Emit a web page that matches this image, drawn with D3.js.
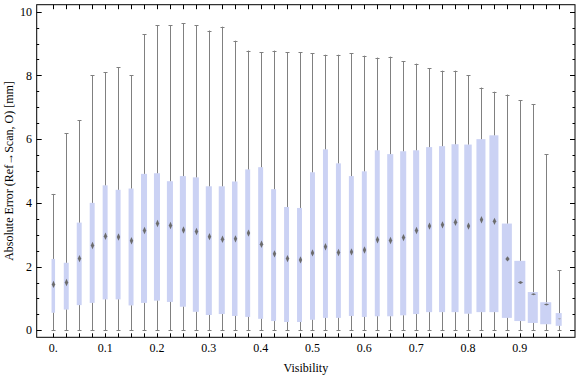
<!DOCTYPE html>
<html>
<head>
<meta charset="utf-8">
<script src="https://cdn.jsdelivr.net/npm/d3@7"></script>
<style>
  body { margin: 0; background: #fff; }
  svg text { font-family: "Liberation Serif", "DejaVu Serif", serif; font-size: 12px; fill: #000; }
</style>
</head>
<body>
<div id="chart"></div>
<script>
// categories (visibility bins)
let visibility = [0, 0.025, 0.05, 0.075, 0.1, 0.125, 0.15, 0.175, 0.2, 0.225,
                  0.25, 0.275, 0.3, 0.325, 0.35, 0.375, 0.4, 0.425, 0.45, 0.475,
                  0.5, 0.525, 0.55, 0.575, 0.6, 0.625, 0.65, 0.675, 0.7, 0.725,
                  0.75, 0.775, 0.8, 0.825, 0.85, 0.875, 0.9, 0.925, 0.95, 0.975];

// box whisker statistics [mm]
let whiskerLow = [0, 0, 0, 0, 0, 0, 0, 0, 0, 0,
                  0, 0, 0, 0, 0, 0, 0, 0, 0, 0,
                  0, 0, 0, 0, 0, 0, 0, 0, 0, 0,
                  0, 0, 0, 0, 0, 0, 0, 0, 0, 0];
let quartile1 = [0.55, 0.65, 0.79, 0.86, 0.97, 0.97, 0.78, 0.86, 0.93, 0.89,
                 0.74, 0.58, 0.48, 0.51, 0.45, 0.42, 0.36, 0.29, 0.26, 0.26,
                 0.33, 0.39, 0.39, 0.45, 0.42, 0.44, 0.44, 0.47, 0.51, 0.57,
                 0.57, 0.57, 0.52, 0.57, 0.57, 0.39, 0.29, 0.23, 0.19, 0.14];
let median    = [1.44, 1.50, 2.25, 2.66, 2.95, 2.93, 2.81, 3.13, 3.35, 3.29,
                 3.15, 3.10, 2.94, 2.86, 2.87, 3.05, 2.70, 2.40, 2.25, 2.21,
                 2.43, 2.62, 2.44, 2.46, 2.52, 2.84, 2.82, 2.91, 3.13, 3.27,
                 3.31, 3.39, 3.27, 3.47, 3.42, 2.24, 1.50, 1.13, 0.81, 0.36];
let quartile3 = [2.24, 2.12, 3.38, 4.00, 4.55, 4.41, 4.45, 4.91, 4.93, 4.68,
                 4.84, 4.80, 4.52, 4.52, 4.67, 5.05, 5.12, 4.43, 3.87, 3.84,
                 4.96, 5.68, 5.24, 4.84, 4.99, 5.65, 5.53, 5.62, 5.65, 5.75,
                 5.78, 5.84, 5.83, 6.00, 6.12, 3.35, 2.18, 1.20, 0.88, 0.54];
let whiskerHigh = [4.28, 6.18, 6.59, 8.00, 8.10, 8.25, 8.00, 9.29, 9.57, 9.57,
                   9.63, 9.57, 9.41, 9.53, 9.09, 8.78, 8.72, 8.78, 8.72, 8.72,
                   8.69, 8.65, 8.65, 8.69, 8.62, 8.56, 8.59, 8.44, 8.37, 8.22,
                   8.15, 8.15, 8.00, 7.62, 7.49, 7.40, 7.22, 7.09, 5.52, 1.89];
// relative group weight, shown as box width
let groupWeight = [0.32, 0.45, 0.45, 0.45, 0.45, 0.45, 0.45, 0.55, 0.55, 0.55,
                   0.55, 0.55, 0.55, 0.55, 0.5, 0.45, 0.45, 0.45, 0.45, 0.45,
                   0.45, 0.45, 0.45, 0.45, 0.45, 0.45, 0.55, 0.55, 0.55, 0.55,
                   0.55, 0.64, 0.68, 0.82, 0.82, 0.91, 1.0, 0.91, 1.0, 0.55];

// tick labels
let xTickValues = [0, 0.1, 0.2, 0.3, 0.4, 0.5, 0.6, 0.7, 0.8, 0.9];
let xTickLabels = ["0.", "0.1", "0.2", "0.3", "0.4", "0.5", "0.6", "0.7", "0.8", "0.9"];
let yTickValues = [0, 2, 4, 6, 8, 10];
let yMinorValues = [0.5, 1, 1.5, 2.5, 3, 3.5, 4.5, 5, 5.5, 6.5, 7, 7.5, 8.5, 9, 9.5];

(function() {

  let width  = 576,
      height = 377;

  let frame = { left: 36.7, right: 575, top: 4.7, bottom: 337.3 };

  let data = visibility.map((v, i) => ({
    v: v, lo: whiskerLow[i], q1: quartile1[i], med: median[i],
    q3: quartile3[i], hi: whiskerHigh[i], w: groupWeight[i], i: i
  }));

  let svg = d3.select('#chart')
    .append ("svg")
    .attr   ("width", width)
    .attr   ("height", height);

  // scales
  let x = d3.scaleLinear()
    .domain ([0, 0.975])
    .range  ([53.3, 558.7]);

  let y = d3.scaleLinear()
    .domain ([-0.22, 10.22])
    .range  ([frame.bottom, frame.top]);

  let boxWidth = d3.scaleLinear()
    .domain ([0, 1])
    .range  ([0, 11]);

  // boxes
  svg.selectAll(".box")
    .data  (data)
    .enter ().append("rect")
    .attr  ("class", "box")
    .attr  ("x", d => x(d.v) - boxWidth(d.w) / 2)
    .attr  ("width", d => boxWidth(d.w))
    .attr  ("y", d => y(d.q3))
    .attr  ("height", d => y(d.q1) - y(d.q3))
    .attr  ("fill", "#cbd2f4");

  // whiskers, below and above the box
  let whisker = svg.append("g")
    .attr ("stroke", "#808080")
    .attr ("stroke-width", 1);

  whisker.selectAll(".upper")
    .data  (data)
    .enter ().append("line")
    .attr  ("x1", d => Math.round(x(d.v)) + 0.5)
    .attr  ("x2", d => Math.round(x(d.v)) + 0.5)
    .attr  ("y1", d => y(d.q3))
    .attr  ("y2", d => y(d.hi));

  whisker.selectAll(".lower")
    .data  (data)
    .enter ().append("line")
    .attr  ("x1", d => Math.round(x(d.v)) + 0.5)
    .attr  ("x2", d => Math.round(x(d.v)) + 0.5)
    .attr  ("y1", d => y(d.q1))
    .attr  ("y2", d => y(d.lo));

  // caps
  ["hi", "lo"].forEach(k => {
    whisker.selectAll(".cap-" + k)
      .data  (data)
      .enter ().append("line")
      .attr  ("x1", d => Math.round(x(d.v)) + 0.5 - 2)
      .attr  ("x2", d => Math.round(x(d.v)) + 0.5 + 2)
      .attr  ("y1", d => Math.round(y(d[k])) + 0.5)
      .attr  ("y2", d => Math.round(y(d[k])) + 0.5);
  });

  // median markers: thin diamonds, flattening for the last narrow boxes
  let markerSize = (i) => {
    if (i === 35) return [2.2, 2.6];
    if (i === 36) return [2.6, 1.4];
    if (i === 37 || i === 38) return [2.6, 1.0];
    if (i === 39) return [1.6, 0.6];
    return [1.7, 3.7];
  };

  svg.selectAll(".median")
    .data  (data)
    .enter ().append("path")
    .attr  ("class", "median")
    .attr  ("d", d => {
      let cx = Math.round(x(d.v)) + 0.5, cy = y(d.med);
      let [hw, hh] = markerSize(d.i);
      return `M${cx},${cy - hh}L${cx + hw},${cy}L${cx},${cy + hh}L${cx - hw},${cy}Z`;
    })
    .attr  ("fill", d => d.i === 39 ? "#9a9a9a" : "#6c6c6c");

  // frame
  svg.append("rect")
    .attr ("x", frame.left)
    .attr ("y", frame.top)
    .attr ("width", frame.right - frame.left)
    .attr ("height", frame.bottom - frame.top)
    .attr ("fill", "none")
    .attr ("stroke", "#000")
    .attr ("stroke-width", 1);

  // x ticks at every bin, bottom and top
  let ticks = svg.append("g").attr("stroke", "#000").attr("stroke-width", 1);

  ticks.selectAll(".xb")
    .data  (visibility)
    .enter ().append("line")
    .attr  ("x1", d => Math.round(x(d)) + 0.5)
    .attr  ("x2", d => Math.round(x(d)) + 0.5)
    .attr  ("y1", frame.bottom)
    .attr  ("y2", frame.bottom - 4);

  ticks.selectAll(".xt")
    .data  (visibility)
    .enter ().append("line")
    .attr  ("x1", d => Math.round(x(d)) + 0.5)
    .attr  ("x2", d => Math.round(x(d)) + 0.5)
    .attr  ("y1", frame.top)
    .attr  ("y2", frame.top + 4.5);

  // y ticks, major and minor, left and right
  let yTicks = yTickValues.map(v => ({ v: v, len: 5 }))
    .concat(yMinorValues.map(v => ({ v: v, len: 2.5 })));

  ticks.selectAll(".yl")
    .data  (yTicks)
    .enter ().append("line")
    .attr  ("x1", frame.left)
    .attr  ("x2", d => frame.left + d.len)
    .attr  ("y1", d => Math.round(y(d.v)) + 0.5)
    .attr  ("y2", d => Math.round(y(d.v)) + 0.5);

  ticks.selectAll(".yr")
    .data  (yTicks)
    .enter ().append("line")
    .attr  ("x1", frame.right)
    .attr  ("x2", d => frame.right - d.len)
    .attr  ("y1", d => Math.round(y(d.v)) + 0.5)
    .attr  ("y2", d => Math.round(y(d.v)) + 0.5);

  // tick labels
  svg.selectAll(".xlabel")
    .data  (xTickValues)
    .enter ().append("text")
    .attr  ("x", d => x(d))
    .attr  ("y", 352)
    .attr  ("text-anchor", "middle")
    .text  ((d, i) => xTickLabels[i]);

  svg.selectAll(".ylabel")
    .data  (yTickValues)
    .enter ().append("text")
    .attr  ("x", 32)
    .attr  ("y", d => y(d))
    .attr  ("dy", "0.35em")
    .attr  ("text-anchor", "end")
    .text  (d => d);

  // axis titles
  svg.append("text")
    .attr ("x", (frame.left + frame.right) / 2)
    .attr ("y", 372)
    .attr ("text-anchor", "middle")
    .text ("Visibility");

  svg.append("text")
    .attr ("transform", `translate(13,${(frame.top + frame.bottom) / 2}) rotate(-90)`)
    .attr ("text-anchor", "middle")
    .text ("Absolute Error (Ref→Scan, O) [mm]");

})();
</script>
</body>
</html>
